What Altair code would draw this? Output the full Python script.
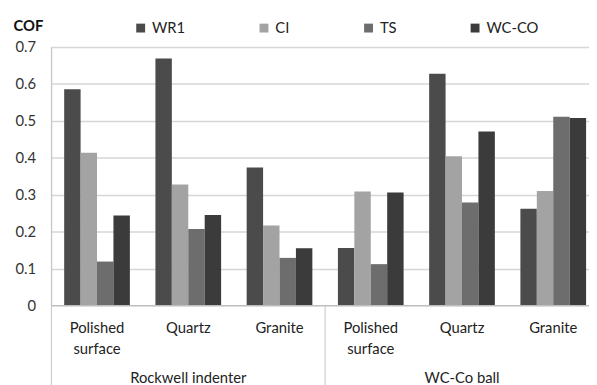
import altair as alt
import pandas as pd

series = ["WR1", "CI", "TS", "WC-CO"]
colors = ["#4b4b4b", "#a3a3a3", "#6d6d6d", "#3b3b3b"]
groups = ["Rockwell indenter", "WC-Co ball"]
surfaces = ["Polished\nsurface", "Quartz", "Granite"]

# values[group][surface] -> [WR1, CI, TS, WC-CO]
rockwell = [
    [0.586, 0.414, 0.119, 0.244],
    [0.669, 0.328, 0.207, 0.245],
    [0.374, 0.217, 0.129, 0.155],
]
wcco_ball = [
    [0.156, 0.309, 0.112, 0.306],
    [0.628, 0.404, 0.279, 0.471],
    [0.262, 0.310, 0.511, 0.508],
]
values = [rockwell, wcco_ball]

rows = []
keys = []
cat_rows = []
grp_rows = []
for gi, g in enumerate(groups):
    for si, s in enumerate(surfaces):
        key = f"{gi}-{si}"
        keys.append(key)
        cat_rows.append({"key": key, "label": s})
        if si == 1:
            grp_rows.append({"key": key, "label": g})
        for k, name in enumerate(series):
            rows.append({"key": key, "series": name, "value": values[gi][si][k]})

df = pd.DataFrame(rows)
cats = pd.DataFrame(cat_rows)
grps = pd.DataFrame(grp_rows)

FONT = "Lato"
W, H = 545, 262
xscale = alt.Scale(domain=keys, range=[0, 555], paddingInner=0.28, paddingOuter=0.14)

bars = alt.Chart(df).mark_bar(stroke=None).encode(
    x=alt.X("key:N", sort=keys, scale=xscale, axis=None),
    xOffset=alt.XOffset("series:N", sort=series,
                        scale=alt.Scale(domain=series, paddingInner=0, paddingOuter=0)),
    y=alt.Y("value:Q",
            scale=alt.Scale(domain=[0, 0.7], nice=False),
            axis=alt.Axis(values=[0, 0.1, 0.2, 0.3, 0.4, 0.5, 0.6, 0.7],
                          labelExpr="datum.value == 0 ? '0' : format(datum.value, '.1f')",
                          labelFontSize=15, labelColor="#333333", labelFont=FONT,
                          labelPadding=16, ticks=False, domain=False,
                          grid=True, gridColor="#d6d6d6", gridWidth=1.5,
                          title="COF", titleAngle=0, titleAlign="left",
                          titleBaseline="middle", titleX=-39, titleY=-22,
                          titleFontSize=15, titleFontWeight="bold", titleFont=FONT,
                          titleColor="#111111")),
    color=alt.Color("series:N", sort=series,
                    scale=alt.Scale(domain=series, range=colors),
                    legend=alt.Legend(title=None, orient="none", direction="horizontal",
                                      legendX=83, legendY=-27, symbolType="square",
                                      symbolSize=81, symbolStrokeWidth=0,
                                      labelFontSize=15, labelFont=FONT, labelColor="#222222",
                                      labelOffset=4, columnPadding=72)),
)

base_line = alt.Chart(pd.DataFrame({"v": [0]})).mark_rule(color="#bfbfbf", strokeWidth=1).encode(
    x=alt.value(0), x2=alt.value(W), y=alt.value(H)
)
left_line = alt.Chart(pd.DataFrame({"v": [0]})).mark_rule(color="#c4c4c4", strokeWidth=1).encode(
    x=alt.value(0), y=alt.value(0), y2=alt.value(400)
)
divider = alt.Chart(pd.DataFrame({"v": [0]})).mark_rule(color="#c4c4c4", strokeWidth=1).encode(
    x=alt.value(277.5), y=alt.value(H), y2=alt.value(400)
)

cat_text = alt.Chart(cats).mark_text(
    font=FONT, fontSize=15, color="#222222", lineBreak="\n", lineHeight=21,
    align="center", baseline="alphabetic"
).encode(
    x=alt.X("key:N", sort=keys, scale=xscale, axis=None),
    y=alt.value(290),
    text="label:N",
)

grp_text = alt.Chart(grps).mark_text(
    font=FONT, fontSize=15, color="#222222", align="center", baseline="alphabetic"
).encode(
    x=alt.X("key:N", sort=keys, scale=xscale, axis=None),
    y=alt.value(341),
    text="label:N",
)

chart = alt.layer(bars, base_line, left_line, divider, cat_text, grp_text).properties(
    width=W, height=H,
    autosize=alt.AutoSizeParams(type="none"),
    padding={"left": 44, "top": 37, "right": 0, "bottom": 78},
).configure_view(stroke=None).configure(font=FONT)

chart.save("out.html", embed_options={"renderer": "svg", "actions": False})
